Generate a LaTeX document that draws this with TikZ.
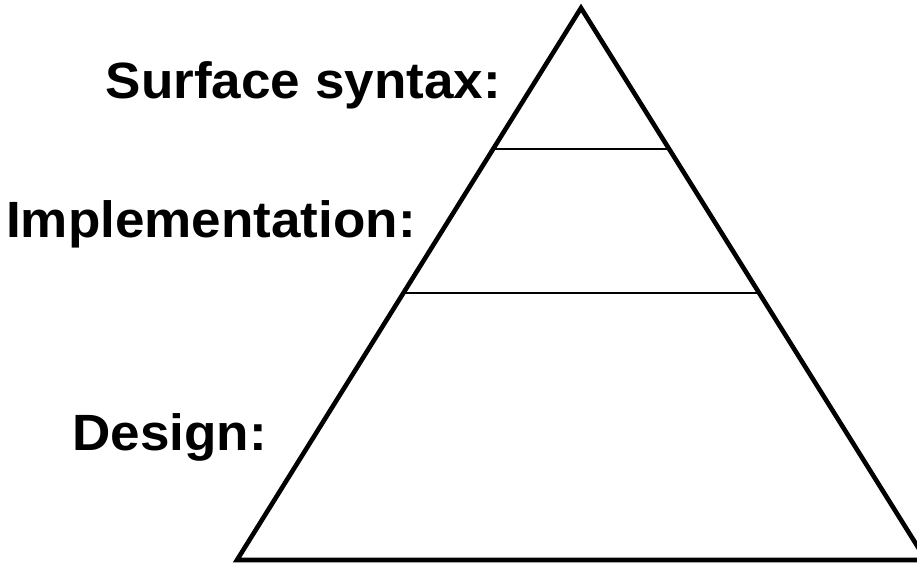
\documentclass[tikz,border=0pt]{standalone}
\usepackage{fontspec}
\setmainfont{Liberation Sans}
\usepackage{graphicx}
\usetikzlibrary{calc}

\newcommand{\lvl}[1]{\scalebox{1.04}[1]{#1}}

\begin{document}
\begin{tikzpicture}[x=1pt,y=-1pt]
  \tikzstyle{lbl}=[anchor=base east,inner sep=0pt,font=\fontsize{51}{51}\selectfont\bfseries]
  \tikzstyle{edge}=[line width=4.6pt]
  \tikzstyle{layer}=[line width=2.6pt]
  \clip (0,0) rectangle (917,563);
  \coordinate (top) at (581,8);
  \coordinate (bl) at (237,560);
  \coordinate (br) at (926,560);
  \draw[layer] ($(top)!0.2554!(bl)$) -- ($(top)!0.2554!(br)$);
  \draw[layer] ($(top)!0.5163!(bl)$) -- ($(top)!0.5163!(br)$);
  \draw[edge] (top) -- (bl) -- (br) -- cycle;
  \node[lbl] (surf) at (501,98) {\lvl{Surface syntax:}};
  \node[lbl] (impl) at (416,237) {\lvl{Implementation:}};
  \node[lbl] (des) at (267,450) {\lvl{Design:}};
\end{tikzpicture}
\end{document}
